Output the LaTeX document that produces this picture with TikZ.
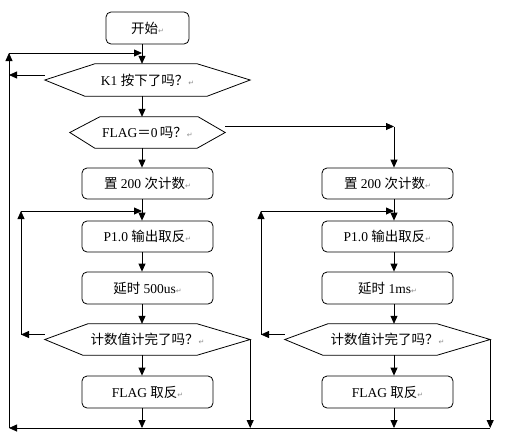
\documentclass[tikz,border=0pt]{standalone}
\usepackage{fontspec}
\setmainfont{Liberation Serif}
\newfontfamily\cjk{Noto Sans CJK SC}
\newfontfamily\symf{DejaVu Sans}
\usetikzlibrary{arrows.meta}
\newcommand\pmark{{\symf\fontsize{7}{7}\selectfont\color{black!45}↵}}
\newcommand\hexa[5]{\draw[ln] (#1.west) -- ([xshift=#2]#1.north west) -- ([xshift=-#4]#1.north east) -- (#1.east) -- ([xshift=-#5]#1.south east) -- ([xshift=#3]#1.south west) -- cycle;}
\tikzset{
  ln/.style={line width=0.8pt},
  arr/.style={ln,-{Triangle[length=8pt,width=7pt]}},
  txt/.style={font=\fontsize{13.5}{15}\selectfont, inner sep=0pt},
  stepbox/.style={txt, draw, ln, rounded corners=5pt, minimum width=131pt, minimum height=31pt},
  hexnode/.style={txt, minimum width=205pt, minimum height=31pt},
}
\begin{document}
\begin{tikzpicture}[x=1pt,y=-1pt]
\useasboundingbox (0,0) rectangle (524,442);
% nodes left column
\node[stepbox, minimum width=83pt, minimum height=32pt] (start) at (147.5,28) {{\cjk 开始}\pmark};
\node[hexnode, minimum height=32pt] (k1) at (147.5,80) {K1 {\cjk 按下了吗？}\pmark};
\node[hexnode, minimum width=155pt] (flag0) at (147.5,132.5) {FLAG{\cjk ＝}0\,{\cjk 吗？}\pmark};
\node[stepbox] (Lcnt) at (147.5,183.5) {{\cjk 置} 200 {\cjk 次计数}\pmark};
\node[stepbox] (Lp1) at (147.5,236.5) {P1.0 {\cjk 输出取反}\pmark};
\node[stepbox, minimum height=32pt] (Ldly) at (147.5,288) {{\cjk 延时} 500us\pmark};
\node[hexnode] (Lchk) at (147.5,339.5) {{\cjk 计数值计完了吗？}\pmark};
\node[stepbox, minimum height=32pt] (Lflag) at (147.5,392) {FLAG {\cjk 取反}\pmark};
% nodes right column
\node[stepbox] (Rcnt) at (387.5,183.5) {{\cjk 置} 200 {\cjk 次计数}\pmark};
\node[stepbox] (Rp1) at (387.5,236.5) {P1.0 {\cjk 输出取反}\pmark};
\node[stepbox, minimum height=32pt] (Rdly) at (387.5,288) {{\cjk 延时} 1ms\pmark};
\node[hexnode] (Rchk) at (387.5,339.5) {{\cjk 计数值计完了吗？}\pmark};
\node[stepbox, minimum height=32pt] (Rflag) at (387.5,392) {FLAG {\cjk 取反}\pmark};
% hexagon outlines
\hexa{k1}{50}{40}{53}{43}
\hexa{flag0}{30}{25}{27}{28}
\hexa{Lchk}{43}{38}{53}{53}
\hexa{Rchk}{43}{38}{53}{53}
% helper coordinates
\coordinate (la) at (142,0);
\coordinate (ra) at (394,0);
\coordinate (o1) at (9,428);
\coordinate (o2) at (9,53);
\coordinate (o3) at (142,53);
\coordinate (k1l) at (9,75);
\coordinate (li1) at (21,334.5);
\coordinate (li2) at (21,211);
\coordinate (li3) at (142,211);
\coordinate (ri1) at (261,334.5);
\coordinate (ri2) at (261,211);
\coordinate (ri3) at (394,211);
\coordinate (fr) at (394,126.5);
% main flow left
\draw[arr] (start.south -| la) -- (k1.north -| la);
\draw[arr] (k1.south -| la) -- (flag0.north -| la);
\draw[arr] (flag0.south -| la) -- (Lcnt.north -| la);
\draw[arr] (Lcnt.south -| la) -- (Lp1.north -| la);
\draw[arr] (Lp1.south -| la) -- (Ldly.north -| la);
\draw[arr] (Ldly.south -| la) -- (Lchk.north -| la);
\draw[arr] (Lchk.south -| la) -- (Lflag.north -| la);
\draw[arr] (Lflag.south -| la) -- (la |- o1);
\draw[arr] (Lchk.east) -- (Lchk.east |- o1);
% main flow right
\draw[arr] ([yshift=6pt]flag0.east) -- (fr);
\draw[arr] (fr) -- (Rcnt.north -| ra);
\draw[arr] (Rcnt.south -| ra) -- (Rp1.north -| ra);
\draw[arr] (Rp1.south -| ra) -- (Rdly.north -| ra);
\draw[arr] (Rdly.south -| ra) -- (Rchk.north -| ra);
\draw[arr] (Rchk.south -| ra) -- (Rflag.north -| ra);
\draw[arr] (Rflag.south -| ra) -- (ra |- o1);
\draw[arr] (Rchk.east) -- (Rchk.east |- o1);
% bottom return and outer loop
\draw[arr] (Rchk.east |- o1) -- (o1);
\draw[arr] (o1) -- (o2);
\draw[arr] (o2) -- (o3);
\draw[arr] ([yshift=5pt]k1.west) -- (k1l);
% inner loops
\draw[arr] ([yshift=5pt]Lchk.west) -- (li1);
\draw[arr] (li1) -- (li2);
\draw[arr] (li2) -- (li3);
\draw[arr] ([yshift=5pt]Rchk.west) -- (ri1);
\draw[arr] (ri1) -- (ri2);
\draw[arr] (ri2) -- (ri3);
\end{tikzpicture}
\end{document}
